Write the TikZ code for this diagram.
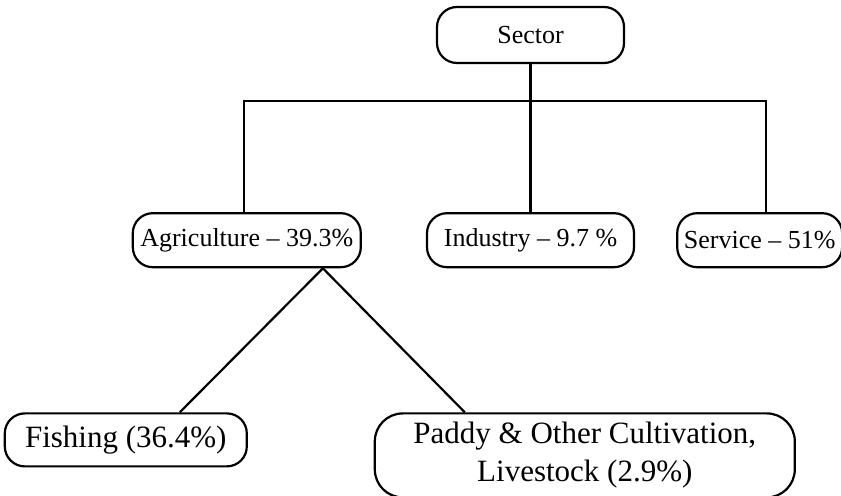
\documentclass[tikz,border=0pt]{standalone}
\usepackage{fontspec}
\setmainfont{Liberation Serif}
\usepackage{tikz}
\usetikzlibrary{positioning}

\begin{document}
\begin{tikzpicture}[x=0.5pt,y=-0.5pt,line width=1.1pt,
    box/.style={draw,rounded corners=10pt,inner sep=0pt,align=center,
      font=\fontsize{13}{15}\selectfont,minimum height=27pt},
    bigbox/.style={box,font=\fontsize{15.5}{19}\selectfont}]
  \useasboundingbox (0,0) rectangle (841,496);
  \node[box,minimum width=93.5pt,minimum height=28pt] (sector) at (530.5,35) {Sector};
  \node[box,below=74pt of sector,minimum width=103.5pt](indus) {Industry -- 9.7 \%};
  \node[box,left=32pt of indus,minimum width=114pt](agri) {Agriculture -- 39.3\%};
  \node[box,right=20.5pt of indus,minimum width=82.5pt](serv) {Service -- 51\%};
  \node[bigbox,below=72pt of agri,xshift=-60.5pt,minimum width=121pt,minimum height=26.5pt](fish) {Fishing (36.4\%)};
  \node[bigbox,below=72pt of agri,xshift=169pt,minimum width=210pt,minimum height=42pt,rounded corners=14pt](paddy) {Paddy \& Other Cultivation,\\ Livestock (2.9\%)};
  \coordinate (barl) at (244,101);
  \coordinate (barr) at (766,101);
  \draw (sector)--(indus);
  \draw (agri.north -| barl)--(barl)--(barr)--(barr |- serv.north);
  \draw ([xshift=27pt]fish.north)--([xshift=-19.5pt]agri.south east)--([xshift=-60pt]paddy.north);
\end{tikzpicture}
\end{document}
